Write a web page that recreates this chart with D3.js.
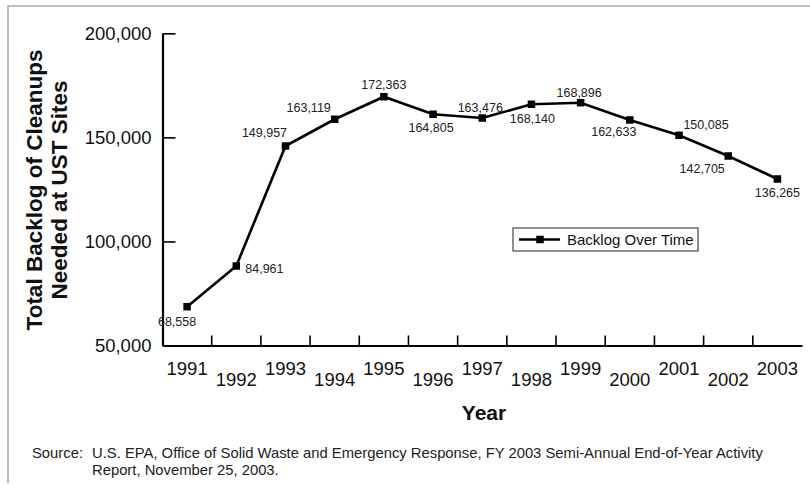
<!DOCTYPE html>
<html>
<head>
<meta charset="utf-8">
<script src="https://cdn.jsdelivr.net/npm/d3@7"></script>
<style>
  html, body { margin: 0; padding: 0; background: #fff; }
  svg { display: block; font-family: "Liberation Sans", Arial, Helvetica, sans-serif; }
</style>
</head>
<body>
<svg id="chart" width="810" height="487"></svg>
<script>
// ---- data ----
const years = ["1991","1992","1993","1994","1995","1996","1997","1998","1999","2000","2001","2002","2003"];
// plotted positions of the markers
const backlog = [68640, 88200, 145850, 158700, 169540, 161100, 159300, 165900, 166650, 158350, 151000, 141050, 130000];
// value labels printed next to the markers
const pointLabels = ["68,558","84,961","149,957","163,119","172,363","164,805","163,476","168,140","168,896","162,633","150,085","142,705","136,265"];
const yTicks = [50000, 100000, 150000, 200000];
const seriesName = "Backlog Over Time";
const yTitle = ["Total Backlog of Cleanups", "Needed at UST Sites"];
const xTitle = "Year";
const sourceLines = ["U.S. EPA, Office of Solid Waste and Emergency Response, FY 2003 Semi-Annual End-of-Year Activity",
                     "Report, November 25, 2003."];

// ---- layout (label offsets relative to marker: dx, dy of baseline) ----
const labelOffsets = [[-10,19],[9,7,"start"],[-21,-9],[-26,-7],[0,-8],[-2,18],[-2,-6],[1,19],[-1.5,-6],[-16,16],[27,-6],[-26,17],[0,18]];

const svg = d3.select("#chart");
const plotLeft = 162.5, plotRight = 802, plotTop = 33.3, plotBottom = 345.5;

const x = d3.scaleBand().domain(years).range([plotLeft, plotRight]).padding(0);
const y = d3.scaleLinear().domain([50000, 200000]).range([plotBottom, plotTop]);

// frame
svg.append("path")
  .attr("d", "M8,483V6H810")
  .attr("fill", "none").attr("stroke", "#a8a8a8").attr("stroke-width", 1.5);

// y axis
const yAxis = svg.append("g").attr("transform", `translate(${plotLeft},0)`)
  .call(d3.axisLeft(y).tickValues(yTicks).tickFormat(d3.format(",")).tickSizeInner(-13).tickSizeOuter(0).tickPadding(11));
yAxis.select(".domain").attr("stroke", "#000").attr("stroke-width", 2.2);
yAxis.selectAll(".tick line").attr("stroke", "#000").attr("stroke-width", 1.6);
yAxis.selectAll(".tick text").attr("font-size", 18.5).attr("fill", "#111")
  .attr("font-family", "'Liberation Sans', Arial, sans-serif");

// x axis (labels centered on bands, ticks at band boundaries)
const xAxis = svg.append("g").attr("transform", `translate(0,${plotBottom})`)
  .call(d3.axisBottom(x).tickSize(0).tickPadding(0));
xAxis.select(".domain").attr("stroke", "#000").attr("stroke-width", 2.2);
xAxis.selectAll(".tick text")
  .attr("font-size", 18.5).attr("fill", "#111")
  .attr("font-family", "'Liberation Sans', Arial, sans-serif")
  .attr("dy", null)
  .attr("y", (d, i) => i % 2 === 0 ? 29.5 : 40.5);
xAxis.selectAll(".boundary")
  .data(years.slice(0, -1))
  .join("line")
  .attr("class", "boundary")
  .attr("x1", d => x(d) + x.bandwidth()).attr("x2", d => x(d) + x.bandwidth())
  .attr("y1", 0).attr("y2", -10)
  .attr("stroke", "#000").attr("stroke-width", 1.6);

// line
const cx = (d, i) => x(years[i]) + x.bandwidth() / 2;
const line = d3.line().x((d, i) => cx(d, i)).y(d => y(d));
svg.append("path").datum(backlog)
  .attr("d", line).attr("fill", "none").attr("stroke", "#000").attr("stroke-width", 2.6)
  .attr("stroke-linejoin", "miter");

const ms = 7.5;
svg.selectAll(".marker").data(backlog).join("rect")
  .attr("class", "marker")
  .attr("x", (d, i) => cx(d, i) - ms / 2).attr("y", d => y(d) - ms / 2)
  .attr("width", ms).attr("height", ms).attr("fill", "#000");

svg.selectAll(".vlabel").data(backlog).join("text")
  .attr("class", "vlabel")
  .attr("x", (d, i) => cx(d, i) + labelOffsets[i][0])
  .attr("y", (d, i) => y(d) + labelOffsets[i][1])
  .attr("text-anchor", (d, i) => labelOffsets[i][2] || "middle")
  .attr("font-size", 12.5).attr("fill", "#222")
  .text((d, i) => pointLabels[i]);

// legend
const lg = svg.append("g").attr("transform", "translate(513,228)");
lg.append("rect").attr("width", 185).attr("height", 23).attr("fill", "#fff").attr("stroke", "#444").attr("stroke-width", 1.2);
lg.append("line").attr("x1", 6).attr("x2", 47).attr("y1", 11.5).attr("y2", 11.5).attr("stroke", "#000").attr("stroke-width", 2.6);
lg.append("rect").attr("x", 27 - ms / 2).attr("y", 11.5 - ms / 2).attr("width", ms).attr("height", ms).attr("fill", "#000");
lg.append("text").attr("x", 54).attr("y", 17).attr("font-size", 15).attr("fill", "#111").text(seriesName);

// y title
const yt = svg.append("text").attr("transform", "translate(42,190) rotate(-90)")
  .attr("text-anchor", "middle").attr("font-weight", "bold").attr("font-size", 22.5).attr("fill", "#111");
yt.append("tspan").attr("x", 0).attr("y", 0).text(yTitle[0]);
yt.append("tspan").attr("x", 0).attr("y", 25).text(yTitle[1]);

// x title
svg.append("text").attr("x", 484).attr("y", 420).attr("text-anchor", "middle")
  .attr("font-weight", "bold").attr("font-size", 21).attr("fill", "#111").text(xTitle);

// source
svg.append("text").attr("x", 32).attr("y", 458).attr("font-size", 14.8).attr("fill", "#222").text("Source:");
svg.append("text").attr("x", 92).attr("y", 458).attr("font-size", 14.8).attr("fill", "#222").text(sourceLines[0]);
svg.append("text").attr("x", 92).attr("y", 475).attr("font-size", 14.8).attr("fill", "#222").text(sourceLines[1]);
</script>
</body>
</html>
